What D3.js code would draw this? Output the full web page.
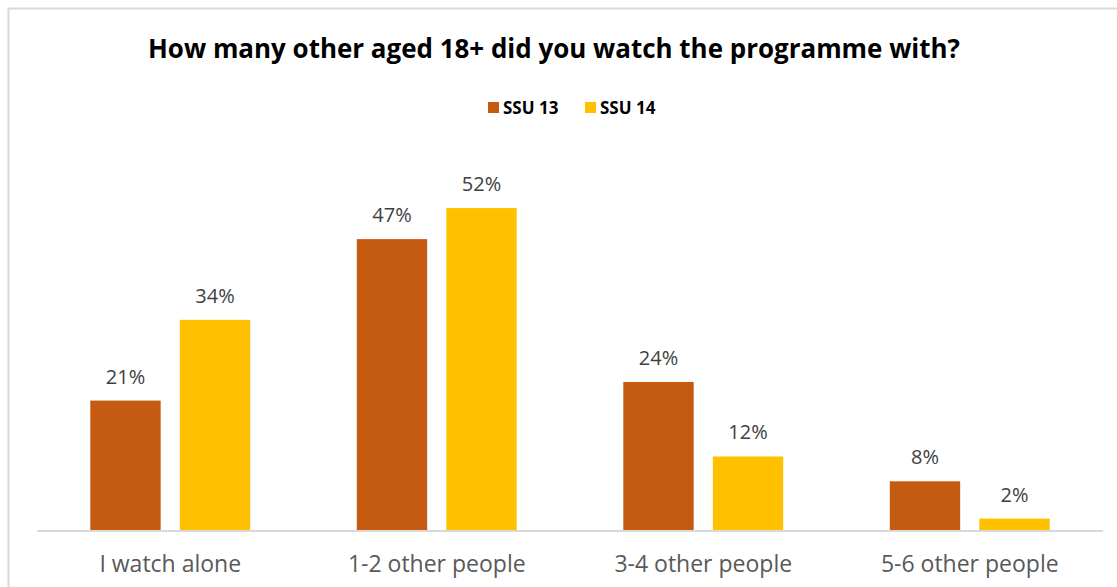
<!DOCTYPE html>
<html>
<head>
<meta charset="utf-8">
<script src="https://cdn.jsdelivr.net/npm/d3@7"></script>
<style>
  html, body { margin: 0; padding: 0; background: #fff; }
  svg { display: block; font-family: "Open Sans", "Noto Sans", sans-serif; }
</style>
</head>
<body>
<svg id="chart" width="1117" height="587"></svg>
<script>
// Data
const categories = ["I watch alone", "1-2 other people", "3-4 other people", "5-6 other people"];
const seriesNames = ["SSU 13", "SSU 14"];
const ssu13 = [21, 47, 24, 8];
const ssu14 = [34, 52, 12, 2];
const colors = ["#C55A11", "#FFC000"];

const seriesValues = [ssu13, ssu14];
const rows = categories.map((c, i) => ({
  category: c,
  values: seriesNames.map((s, j) => ({ series: s, value: seriesValues[j][i], color: colors[j] }))
}));

const svg = d3.select("#chart");
const W = 1117, H = 587;

// Chart frame
svg.append("rect")
  .attr("x", 8.5).attr("y", 8.5)
  .attr("width", W + 10).attr("height", H + 10)
  .attr("fill", "#fff").attr("stroke", "#d9d9d9").attr("stroke-width", 2);

// Title
svg.append("text")
  .attr("x", 554).attr("y", 58)
  .attr("text-anchor", "middle")
  .attr("font-size", 26).attr("font-weight", 700)
  .attr("fill", "#000")
  .attr("textLength", 812).attr("lengthAdjust", "spacingAndGlyphs")
  .text("How many other aged 18+ did you watch the programme with?");

// Legend
const legend = svg.append("g").attr("transform", "translate(488,102)");
const legendX = [0, 97];
seriesNames.forEach((s, i) => {
  const g = legend.append("g").attr("transform", `translate(${legendX[i]},0)`);
  g.append("rect").attr("width", 11).attr("height", 11).attr("fill", colors[i]);
  g.append("text").attr("x", 15).attr("y", 12)
    .attr("font-size", 17).attr("font-weight", 700).attr("fill", "#000")
    .text(s);
});

// Scales
const baseY = 531;
const x0 = d3.scaleBand().domain(categories).range([37, 1103]).paddingInner(0.4).paddingOuter(0.2);
const x1 = d3.scaleBand().domain(seriesNames).range([0, x0.bandwidth()]).paddingInner(0.214);
const y = d3.scaleLinear().domain([0, 60]).range([baseY, 158.4]);

// Bars
const groups = svg.append("g").selectAll("g")
  .data(rows).join("g")
  .attr("transform", d => `translate(${x0(d.category)},0)`);

groups.selectAll("rect")
  .data(d => d.values).join("rect")
  .attr("x", d => x1(d.series))
  .attr("y", d => y(d.value))
  .attr("width", x1.bandwidth())
  .attr("height", d => baseY - y(d.value))
  .attr("fill", d => d.color);

// Value labels
groups.selectAll("text.val")
  .data(d => d.values).join("text")
  .attr("class", "val")
  .attr("x", d => x1(d.series) + x1.bandwidth() / 2)
  .attr("y", d => y(d.value) - 17)
  .attr("text-anchor", "middle")
  .attr("font-size", 20).attr("fill", "#404040")
  .text(d => d.value + "%");

// Category axis
const xAxis = svg.append("g")
  .attr("transform", `translate(0,${baseY})`)
  .call(d3.axisBottom(x0).tickSize(0).tickPadding(25));
xAxis.select(".domain").attr("stroke", "#d9d9d9").attr("stroke-width", 2)
  .attr("d", "M37,0H1103");
xAxis.selectAll("text")
  .attr("font-size", 23).attr("fill", "#595959")
  .attr("font-family", "\"Open Sans\", \"Noto Sans\", sans-serif");
</script>
</body>
</html>
